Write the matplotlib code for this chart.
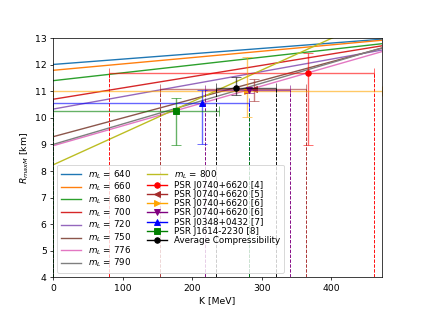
import matplotlib
matplotlib.use("Agg")
import matplotlib.pyplot as plt

# m_L lines: R at K = 0 and at K = K_MAX
K_MAX = 472
mL_values = [640, 660, 680, 700, 720, 750, 776, 790, 800]
R_at_K0 = [12.01, 11.79, 11.40, 10.70, 10.33, 9.29, 8.95, 9.00, 8.23]
R_at_Kmax = [12.96, 12.92, 12.79, 12.71, 12.55, 12.62, 12.49, 12.63, 13.85]

# pulsar constraints
psr_labels = ["PSR J0740+6620 [4]", "PSR J0740+6620 [5]", "PSR J0740+6620 [6]",
              "PSR J0740+6620 [6]", "PSR J0348+0432 [7]", "PSR J1614-2230 [8]",
              "Average Compressibility"]
psr_K = [366, 288, 279, 281, 214.5, 176, 262.6]
psr_K_lo = [80, 153, 0, 218, 0, 0, 233.6]
psr_K_hi = [461, 364, 472, 341, 281, 238, 320]
psr_R = [11.67, 11.07, 11.0, 11.04, 10.55, 10.26, 11.11]
psr_R_lo = [8.98, 10.64, 10.02, 10.95, 9.0, 8.97, 10.85]
psr_R_hi = [12.45, 11.46, 12.30, 11.13, 11.05, 10.73, 11.52]
psr_vline_K = [[80, 461], [153, 364], [0, 472], [218, 341], [0, 281], [0, 281], [233.6, 320]]
psr_colors = ["red", "brown", "orange", "purple", "blue", "green", "black"]
psr_markers = ["o", "<", ">", "v", "^", "s", "o"]

fig = plt.figure(figsize=(6.4, 4.8), dpi=66.25)
ax = fig.add_subplot(111)
fig.subplots_adjust(left=0.125, right=0.9, top=0.88, bottom=0.128)

for m, r0, r1 in zip(mL_values, R_at_K0, R_at_Kmax):
    ax.plot([0, K_MAX], [r0, r1], label=f"$m_L$ = {m}")

for i in range(len(psr_labels)):
    c = psr_colors[i]
    k, r = psr_K[i], psr_R[i]
    xerr = [[k - psr_K_lo[i]], [psr_K_hi[i] - k]]
    yerr = [[r - psr_R_lo[i]], [psr_R_hi[i] - r]]
    ax.errorbar([k], [r], xerr=xerr, yerr=yerr, fmt="none", ecolor=c,
                alpha=0.6, capsize=5, elinewidth=1.5)
    for kv in psr_vline_K[i]:
        ax.vlines(kv, 4, r, colors=c, linestyles="--", linewidth=1)
    ax.plot([k], [r], marker=psr_markers[i], color=c, linestyle="-",
            markersize=6, label=psr_labels[i])

ax.set_xlim(0, K_MAX)
ax.set_ylim(4, 13)
ax.set_xlabel("K [MeV]")
ax.set_ylabel("$R_{maxM}$ [km]")
ax.legend(loc="lower left", ncol=2, fontsize=9.5, labelspacing=0.02,
          handlelength=2.3, columnspacing=1.8)

fig.savefig("out.png", dpi=66.25)
